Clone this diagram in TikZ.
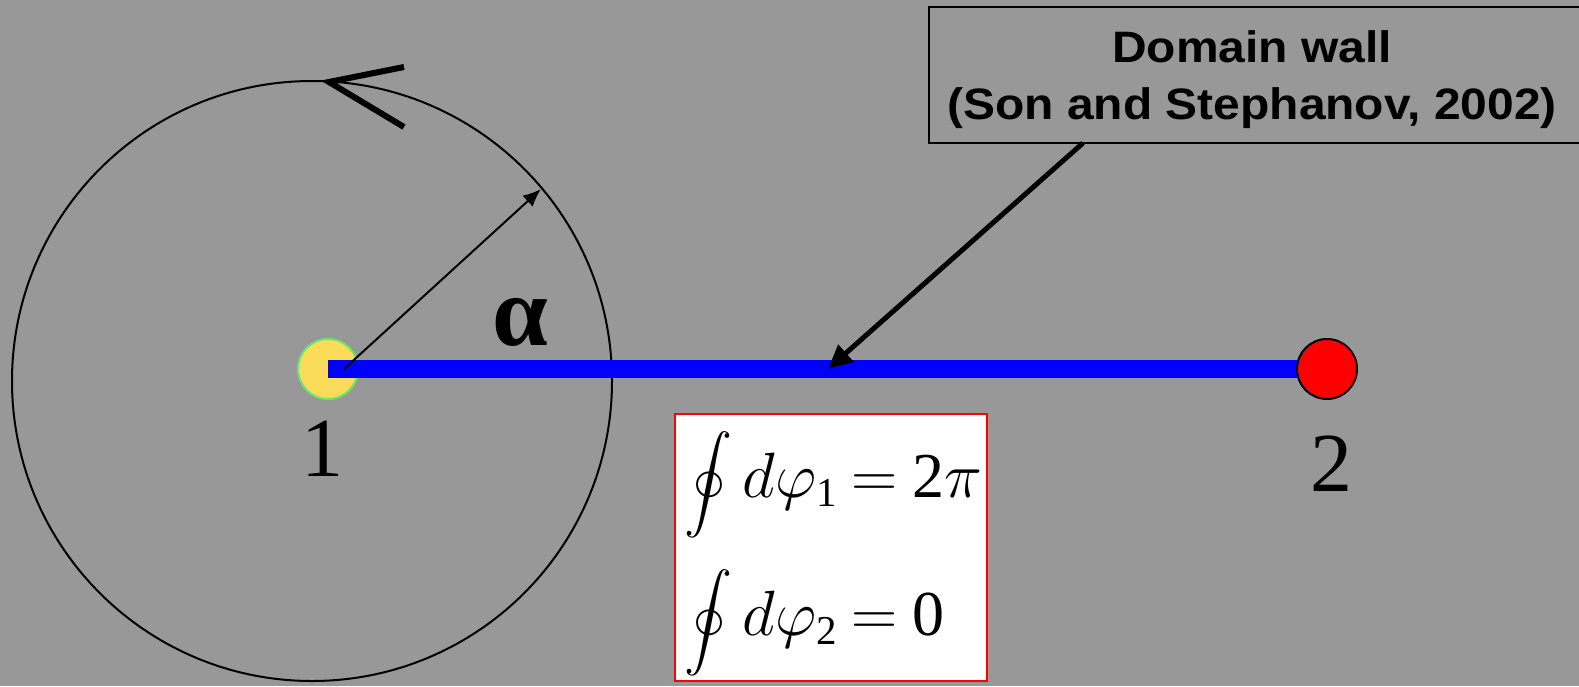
\RequirePackage{fix-cm}
\documentclass[tikz,border=0pt]{standalone}
\usepackage{fontspec}
\setmainfont{Liberation Serif}
\newfontfamily\wallfont[FakeStretch=1.09]{Liberation Sans}
\DeclareFontFamily{OMX}{cmex}{}
\DeclareFontShape{OMX}{cmex}{m}{n}{<-> cmex10}{}
\usetikzlibrary{arrows.meta}
\definecolor{bg}{RGB}{152,152,152}
\definecolor{ylw}{RGB}{250,220,90}
\definecolor{grn}{RGB}{110,230,110}
\definecolor{wallblue}{RGB}{0,0,255}
\newcommand{\subdig}[1]{\mbox{\fontsize{41}{41}\selectfont #1}}
\newcommand{\contint}{{\fontsize{48}{48}\selectfont$\displaystyle\oint$}}
\tikzset{
  charge/.style={circle, minimum size=60pt, inner sep=0pt, line width=2pt},
  biglabel/.style={font=\fontsize{84}{90}\selectfont, inner sep=0pt},
  formula/.style={font=\fontsize{64}{70}\selectfont, inner sep=0pt, anchor=base west},
  wallbox/.style={draw=black, line width=2pt, minimum width=671pt, minimum height=136pt, inner sep=0pt},
  walltext/.style={font=\wallfont\bfseries\fontsize{44}{57}\selectfont, align=center, inner sep=0pt},
  fbox/.style={draw=red, fill=white, line width=2pt, minimum width=312pt, minimum height=267pt, inner sep=0pt},
}
\begin{document}
\begin{tikzpicture}[x=1pt,y=-1pt]
\useasboundingbox (0,0) rectangle (1579,686);
\fill[bg] (0,0) rectangle (1579,686);
% big circle
\coordinate (o) at (312,381);
\draw[line width=2pt] (o) circle[radius=300pt];
% rotation sense arrowhead
\coordinate (rtipc) at (329,82);
\coordinate (armA) at (404,67);
\coordinate (armB) at (404,127);
\draw[line width=6pt] (armA) -- (rtipc) -- (armB);
% charges and wall
\node[charge, fill=ylw, draw=grn] (n1) at (328,369) {};
\coordinate (c2) at (1327,369);
\draw[wallblue, line width=18pt] (n1.center) -- (c2);
\node[charge, fill=red, draw=black] (n2) at (c2) {};
% radius arrow
\coordinate (rstart) at (344,369);
\coordinate (rtip) at (541,189);
\draw[line width=2pt, -{Latex[length=18pt,width=15pt]}] (rstart) -- (rtip);
\node[font=\fontsize{100}{110}\selectfont\bfseries, inner sep=0pt] (alpha) at (520,322) {α};
% labels
\node[biglabel] (l1) at (322,449) {1};
\node[biglabel] (l2) at (1331,464) {2};
% formula box
\node[fbox] (fb) at (831,547.5) {};
\node[formula] (f1) at (684,497) {\contint$\thickmuskip=4mu\,d\varphi_{\subdig{1}} = \mbox{2}\pi$};
\node[formula] (f2) at (684,635) {\contint$\thickmuskip=4mu\,d\varphi_{\subdig{2}} = \mbox{0}$};
% domain wall label
\node[wallbox] (wall) at (1264.5,75) {};
\node[walltext] (wt) at (1252,80) {Domain wall\\(Son and Stephanov, 2002)};
\coordinate (pstart) at (1083,143);
\coordinate (ptip) at (828,369);
\draw[line width=5pt, -{Triangle[length=24pt,width=22pt]}] (pstart) -- (ptip);
\end{tikzpicture}
\end{document}
